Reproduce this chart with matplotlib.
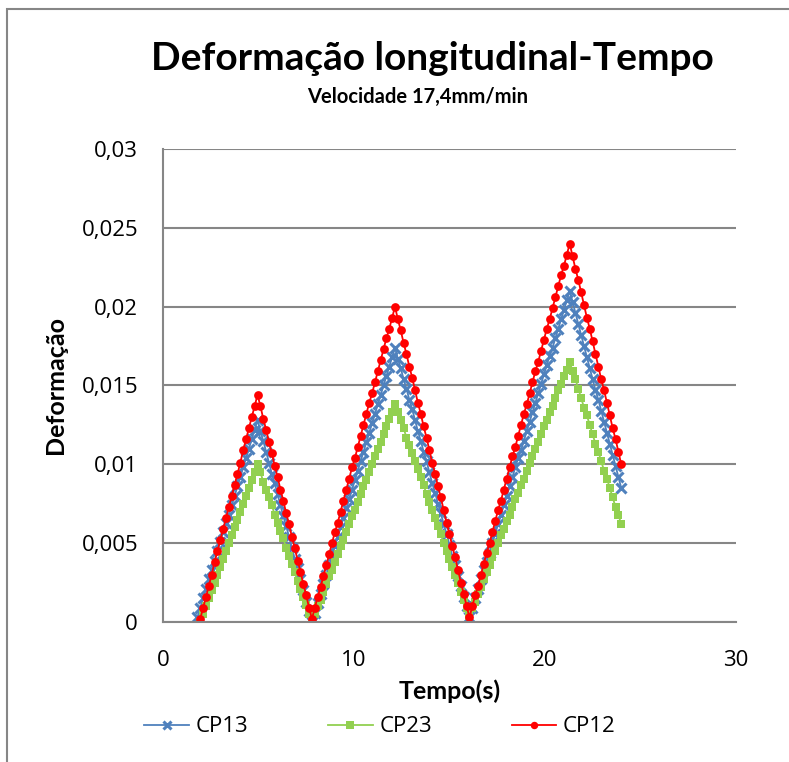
import numpy as np
import matplotlib.pyplot as plt
from matplotlib.patches import Rectangle

plt.rcParams['font.family'] = ['Open Sans', 'DejaVu Sans']
titulo_fonte = ['Lato', 'DejaVu Sans']

# tempo (s), amostragem comum as tres series
tempo = [
    1.80, 1.95, 2.10, 2.25, 2.40, 2.55, 2.70, 2.85, 3.00, 3.15,
    3.30, 3.45, 3.60, 3.75, 3.90, 4.05, 4.20, 4.35, 4.50, 4.65,
    4.80, 4.95, 5.10, 5.25, 5.40, 5.55, 5.70, 5.85, 6.00, 6.15,
    6.30, 6.45, 6.60, 6.75, 6.90, 7.05, 7.20, 7.35, 7.50, 7.65,
    7.80, 7.95, 8.10, 8.25, 8.40, 8.55, 8.70, 8.85, 9.00, 9.15,
    9.30, 9.45, 9.60, 9.75, 9.90, 10.05, 10.20, 10.35, 10.50, 10.65,
    10.80, 10.95, 11.10, 11.25, 11.40, 11.55, 11.70, 11.85, 12.00, 12.15,
    12.30, 12.45, 12.60, 12.75, 12.90, 13.05, 13.20, 13.35, 13.50, 13.65,
    13.80, 13.95, 14.10, 14.25, 14.40, 14.55, 14.70, 14.85, 15.00, 15.15,
    15.30, 15.45, 15.60, 15.75, 15.90, 16.05, 16.20, 16.35, 16.50, 16.65,
    16.80, 16.95, 17.10, 17.25, 17.40, 17.55, 17.70, 17.85, 18.00, 18.15,
    18.30, 18.45, 18.60, 18.75, 18.90, 19.05, 19.20, 19.35, 19.50, 19.65,
    19.80, 19.95, 20.10, 20.25, 20.40, 20.55, 20.70, 20.85, 21.00, 21.15,
    21.30, 21.45, 21.60, 21.75, 21.90, 22.05, 22.20, 22.35, 22.50, 22.65,
    22.80, 22.95, 23.10, 23.25, 23.40, 23.55, 23.70, 23.85, 24.00,
]

# deformacao em unidades de 1e-4
cp13 = [
    3,
    9, 15, 21, 27, 33, 39, 45, 51, 57, 63, 68, 74, 80, 86, 92, 98, 104, 110, 116, 122, 128,
    121, 115, 108, 101, 94, 88, 81, 74, 67, 61, 54, 47, 40, 34, 27, 20, 13, 7, 0,
    6, 12, 18, 24, 30, 36, 42, 48, 54, 60, 66, 72, 78, 84, 90, 96, 102, 108, 114, 120,
    126, 132, 138, 144, 150, 156, 162, 168, 174,
    167, 161, 154, 148, 141, 135, 128, 121, 115, 108, 102, 95, 88, 82, 75, 69, 62, 56,
    49, 42, 36, 29, 23, 16, 10, 3,
    9, 15, 21, 27, 33, 38, 44, 50, 56, 62, 68, 74, 80, 86, 92, 98, 104, 109, 115, 121,
    127, 133, 139, 145, 151, 157, 163, 169, 174, 180, 186, 192, 198, 204, 210,
    203, 196, 189, 182, 175, 168, 161, 154, 147, 141, 134, 127, 120, 113, 106, 99, 92, 85,
]

cp23 = [
    np.nan,
    0, 5, 10, 15, 20, 25, 30, 35, 40, 45, 50, 55, 60, 65, 70, 75, 80, 85, 90, 95, 100,
    95, 89, 84, 79, 74, 68, 63, 58, 53, 47, 42, 37, 32, 26, 21, 16, 11, 5, 0,
    5, 10, 14, 19, 24, 29, 33, 38, 43, 48, 52, 57, 62, 67, 71, 76, 81, 86, 90, 95,
    100, 105, 110, 114, 119, 124, 129, 133, 138,
    133, 128, 123, 117, 112, 107, 102, 97, 92, 87, 81, 76, 71, 66, 61, 56, 50, 45,
    40, 35, 30, 25, 19, 14, 9, 4,
    9, 13, 18, 22, 27, 32, 36, 41, 45, 50, 55, 59, 64, 68, 73, 78, 82, 87, 91, 96,
    101, 105, 110, 114, 119, 124, 128, 133, 137, 142, 147, 151, 156, 160, 165,
    159, 154, 148, 142, 136, 131, 125, 119, 113, 108, 102, 96, 91, 85, 79, 73, 68, 62,
]

cp12 = [
    np.nan,
    2, 9, 16, 23, 30, 38, 45, 52, 59, 66, 73, 80, 87, 94, 101, 109, 116, 123, 130, 137, 144,
    137, 129, 122, 114, 107, 99, 92, 84, 77, 69, 62, 54, 47, 39, 32, 24, 17, 9, 2,
    9, 16, 22, 29, 36, 43, 50, 57, 63, 70, 77, 84, 91, 98, 104, 111, 118, 125, 132, 139,
    145, 152, 159, 166, 173, 180, 186, 193, 200,
    192, 185, 177, 170, 162, 155, 147, 139, 132, 124, 117, 109, 101, 94, 86, 79, 71, 63,
    56, 48, 41, 33, 25, 18, 10, 3,
    10, 17, 23, 30, 37, 44, 50, 57, 64, 71, 77, 84, 91, 98, 105, 111, 118, 125, 132, 138,
    145, 152, 159, 165, 172, 179, 186, 192, 199, 206, 213, 220, 226, 233, 240,
    232, 224, 217, 209, 201, 193, 186, 178, 170, 162, 154, 147, 139, 131, 123, 116, 108, 100,
]

series = ["CP13", "CP23", "CP12"]
yticks = [0, 0.005, 0.01, 0.015, 0.02, 0.025, 0.03]
ytick_labels = ["0", "0,005", "0,01", "0,015", "0,02", "0,025", "0,03"]
xticks = [0, 10, 20, 30]

fig = plt.figure(figsize=(7.89, 7.62), dpi=100)
ax = fig.add_axes([0.2066, 0.1837, 0.7260, 0.6208])

t = np.array(tempo)
ax.plot(t, np.array(cp13) / 1e4, color="#4F81BD", lw=1.3, marker="x",
        ms=6.5, mew=2.2, label=series[0])
ax.plot(t, np.array(cp23) / 1e4, color="#92D050", lw=1.3, marker="s",
        ms=6, mew=0, label=series[1])
ax.plot(t, np.array(cp12) / 1e4, color="#FF0000", lw=1.3, marker="o",
        ms=6.3, mew=0, label=series[2])

ax.set_xlim(0, 30)
ax.set_ylim(0, 0.03)
ax.set_xticks(xticks)
ax.set_yticks(yticks)
ax.set_yticklabels(ytick_labels)
ax.tick_params(axis="y", length=0, labelsize=16, pad=18)
ax.tick_params(axis="x", length=0, labelsize=16, pad=20)
ax.yaxis.grid(True, color="#868686", lw=1.5)
ax.set_axisbelow(True)
for s in ["top", "right"]:
    ax.spines[s].set_visible(False)
for s in ["left", "bottom"]:
    ax.spines[s].set_color("#868686")
    ax.spines[s].set_linewidth(1.5)

ax.set_xlabel("Tempo(s)", fontsize=18, fontweight="bold", labelpad=6,
              family=titulo_fonte)
ax.set_ylabel("Deformação", fontsize=18, fontweight="bold", labelpad=10,
              family=titulo_fonte)

fig.text(432 / 789, 1 - 58 / 762, "Deformação longitudinal-Tempo",
         fontsize=28, fontweight="bold", ha="center", va="center",
         family=titulo_fonte)
fig.text(418 / 789, 1 - 97 / 762, "Velocidade 17,4mm/min",
         fontsize=14.5, fontweight="bold", ha="center", va="center",
         family=titulo_fonte)

fig.legend(loc="center", bbox_to_anchor=(380 / 789, 1 - 727 / 762), ncol=3,
           frameon=False, fontsize=16, handlelength=2.0, columnspacing=3.6,
           handletextpad=0.3, markerscale=0.85)

fig.patches.append(Rectangle((7 / 789, -0.05), 1.1, 1 - 9 / 762 + 0.05,
                             transform=fig.transFigure, fill=False,
                             edgecolor="#868686", lw=1.5))

fig.savefig("out.png", dpi=100)
